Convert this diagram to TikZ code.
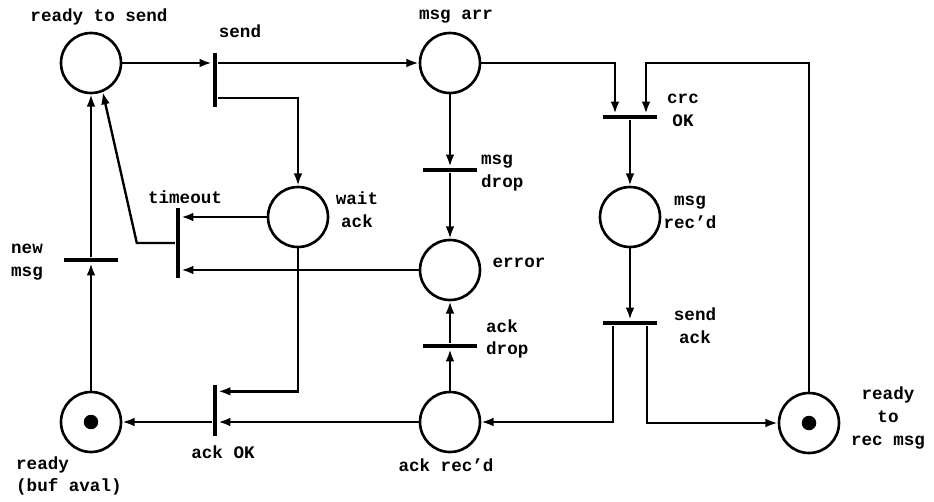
\documentclass[tikz,border=0pt]{standalone}
\usepackage{fontspec}
\setmainfont{Liberation Mono}
\usetikzlibrary{positioning}
\usetikzlibrary{calc}
\usetikzlibrary{arrows.meta}

\begin{document}
\begin{tikzpicture}[
    x=0.02cm, y=-0.02cm,
    place/.style={circle, draw, line width=1.5pt, minimum size=1.2cm, inner sep=0pt},
    token/.style={circle, fill, minimum size=0.29cm, inner sep=0pt},
    vbar/.style={rectangle, fill, inner sep=0pt, minimum width=0.08cm, minimum height=1.08cm},
    hbar/.style={rectangle, fill, inner sep=0pt, minimum width=1.08cm, minimum height=0.08cm},
    lbl/.style={font=\bfseries\fontsize{10}{13}\selectfont, inner sep=0pt},
    every path/.style={line width=1.35pt},
    >={Latex[length=7pt,width=5pt]}
]
    \useasboundingbox (0,0) rectangle (934,501);

    \node[place] (rts) at (91,63) {};
    \node[place] (msgarr) at (450,63) {};
    \node[place] (waitack) at (298,217) {};
    \node[place] (error) at (450,270) {};
    \node[place] (msgrecd) at (630,217) {};
    \node[place] (ackrecd) at (450,422) {};
    \node[place] (ready) at (91,422) {};
    \node[place] (readyrec) at (809,423) {};
    \node[token] (tready) at (ready) {};
    \node[token] (treadyrec) at (readyrec) {};

    \node[vbar] (send) at (215,80) {};
    \node[vbar, minimum height=1.4cm] (timeout) at (178,243) {};
    \node[vbar, minimum height=1.02cm] (ackok) at (215,410) {};
    \node[hbar] (newmsg) at (91,260) {};
    \node[hbar] (msgdrop) at (450,170) {};
    \node[hbar] (ackdrop) at (450,346) {};
    \node[hbar, minimum width=1.1cm] (crcok) at (630,117) {};
    \node[hbar, minimum width=1.1cm] (sendack) at (630,323) {};

    \node[lbl] (lrts) at (99,17) {ready to send};
    \node[lbl] (lsend) at (240,31) {send};
    \node[lbl] (lmsgarr) at (456,17) {msg arr};
    \node[lbl, align=left, anchor=west] (lmsgdrop) at (480,173) {msg\\drop};
    \node[lbl, align=center] (lwaitack) at (357,210) {wait\\ack};
    \node[lbl] (ltimeout) at (185,197) {timeout};
    \node[lbl] (lerror) at (519,263) {error};
    \node[lbl, align=center] (lcrcok) at (683,110) {crc\\OK};
    \node[lbl, align=center] (lmsgrecd) at (690,212) {msg\\rec'd};
    \node[lbl, align=center] (lsendack) at (695,326) {send\\ack};
    \node[lbl, align=left, anchor=west] (lackdrop) at (485,339) {ack\\drop};
    \node[lbl] (lackrecd) at (446,465) {ack rec'd};
    \node[lbl] (lackok) at (223,452) {ack OK};
    \node[lbl, align=left, anchor=west] (lready) at (15,476) {ready\\(buf aval)};
    \node[lbl, align=left, anchor=west] (lnewmsg) at (10,262) {new\\msg};
    \node[lbl, align=center] (lreadyrec) at (888,418) {ready\\to\\rec msg};

    \draw[->] (rts) -- (rts -| send.west);
    \draw[->] (send.east |- msgarr) -- (msgarr);
    \draw[->] ($(send.south east)+(0,-10)$) -| (waitack);
    \draw[->] (msgarr) -- (msgdrop);
    \draw[->] (msgdrop) -- (error);
    \draw[->] (msgarr) -| ($(crcok.north)+(-15,0)$);
    \draw[->] (readyrec) -- (readyrec |- msgarr) -| ($(crcok.north)+(16,0)$);
    \draw[->] (crcok) -- (msgrecd);
    \draw[->] (msgrecd) -- (sendack);
    \draw[->] ($(sendack.south)+(-17,0)$) |- (ackrecd);
    \draw[->] ($(sendack.south)+(17,0)$) |- (readyrec);
    \draw[->] (ackrecd) -- (ackdrop);
    \draw[->] (ackdrop) -- (error);
    \draw[->] (ackrecd) -- (ackrecd -| ackok.east);
    \draw[->] (ackok.west |- ready) -- (ready);
    \draw[->] (waitack) |- ($(ackok.north east)+(0,8)$);
    \draw[->] (waitack) -- (waitack -| timeout.east);
    \draw[->] (error) -- (error -| timeout.east);
    \draw[->] (timeout.west) -- ++(-38,0) -- (rts.-68);
    \draw[->] (ready) -- (newmsg);
    \draw[->] (newmsg) -- (rts);
\end{tikzpicture}
\end{document}
